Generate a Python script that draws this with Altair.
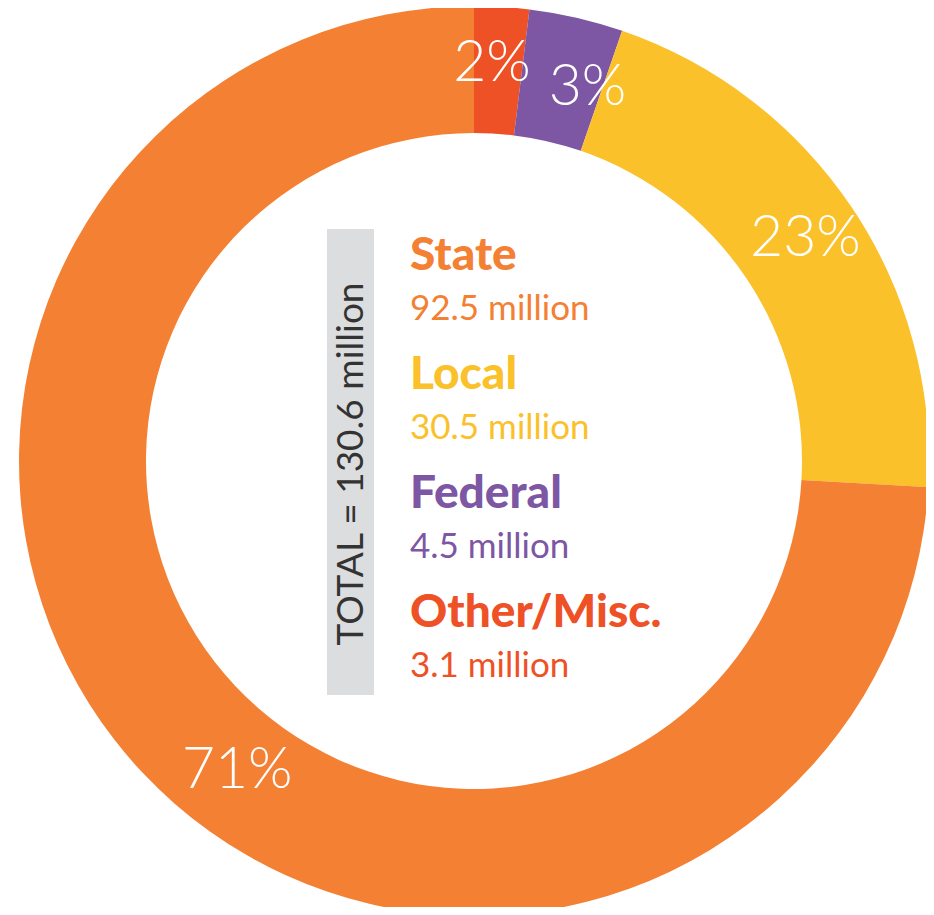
import altair as alt
import pandas as pd

# Values
categories = ["Other/Misc.", "Federal", "Local", "State"]
amounts = ["3.1 million", "4.5 million", "30.5 million", "92.5 million"]
pct_labels = ["2%", "3%", "23%", "71%"]
# arc extent as drawn in the reference (degrees, clockwise from 12 o'clock)
arc_share = [7.0, 12.0, 74.3, 266.7]
legend_rank = [3, 2, 1, 0]  # top-to-bottom order in the centre list
colors = ["#EE5125", "#7D56A4", "#FBC12A", "#F48034"]
total_text = "TOTAL = 130.6 million"

df = pd.DataFrame({
    "cat": categories,
    "amount": amounts,
    "pct": pct_labels,
    "share": arc_share,
    "idx": list(range(len(categories))),
    "rank": legend_rank,
})

color_scale = alt.Scale(domain=categories, range=colors)
CX, CY = 466, 453

base = alt.Chart(df)

ring = base.mark_arc(innerRadius=328, outerRadius=455).encode(
    theta=alt.Theta("share:Q", stack=True),
    color=alt.Color("cat:N", scale=color_scale, legend=None),
    order=alt.Order("idx:Q"),
    x=alt.value(CX),
    y=alt.value(CY),
)

# per-label nudges (style only) so the labels sit as in the reference
nudges = {"2%": (-6, -5), "3%": (25, 10), "23%": (5, -3), "71%": (49, 40)}
label_layers = []
for lab, (ddx, ddy) in nudges.items():
    label_layers.append(
        base.mark_text(
            radius=393, fontSize=57, font="Lato", fontWeight=300, color="white",
            dx=ddx, dy=ddy,
        ).encode(
            theta=alt.Theta("share:Q", stack=True),
            text="pct:N",
            opacity=alt.condition(alt.datum.pct == lab, alt.value(1), alt.value(0)),
            order=alt.Order("idx:Q"),
            x=alt.value(CX),
            y=alt.value(CY),
        )
    )

box = alt.Chart(pd.DataFrame({"a": [0]})).mark_rect(color="#DCDDDE").encode(
    x=alt.value(319), x2=alt.value(366), y=alt.value(221), y2=alt.value(687)
)

total = alt.Chart(pd.DataFrame({"t": [total_text]})).mark_text(
    angle=270, fontSize=37, font="Lato", color="#333333", align="center", baseline="middle"
).encode(
    x=alt.value(344), y=alt.value(456), text="t:N"
)

yscale = alt.Scale(domain=[0, 3], range=[262, 619])

names = base.mark_text(
    align="left", baseline="alphabetic", fontSize=46, font="Lato", fontWeight=900
).encode(
    x=alt.value(402),
    y=alt.Y("rank:Q", scale=yscale, axis=None),
    text="cat:N",
    color=alt.Color("cat:N", scale=color_scale, legend=None),
)

amts = base.mark_text(
    align="left", baseline="alphabetic", fontSize=35, font="Lato", fontWeight=400, dy=50
).encode(
    x=alt.value(402),
    y=alt.Y("rank:Q", scale=yscale, axis=None),
    text="amount:N",
    color=alt.Color("cat:N", scale=color_scale, legend=None),
)

chart = alt.layer(ring, *label_layers, box, total, names, amts).properties(
    width=918, height=899, padding=0, autosize=alt.AutoSizeParams(type="none")
).configure_view(stroke=None)

chart.save("out.html", embed_options={"renderer": "svg", "actions": False})
